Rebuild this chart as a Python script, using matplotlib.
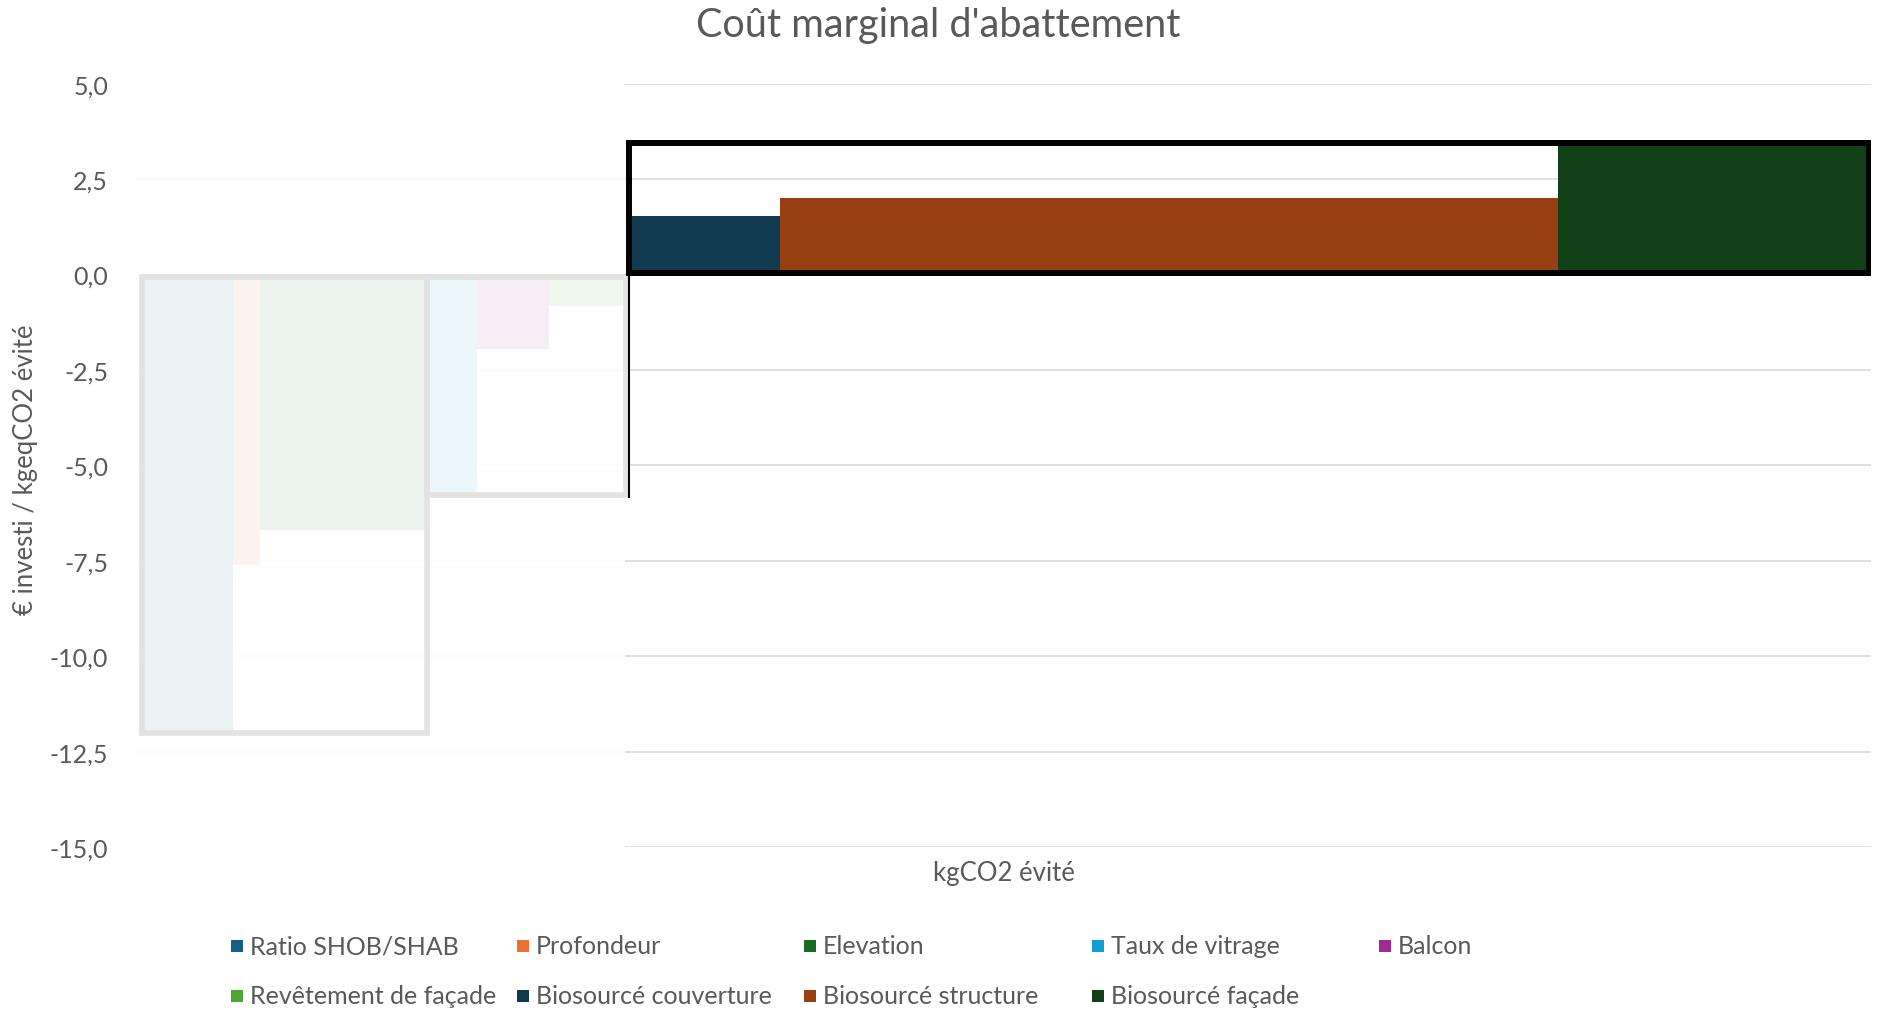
import numpy as np
import matplotlib

matplotlib.use("Agg")
import matplotlib.pyplot as plt
from matplotlib.patches import Rectangle

plt.rcParams["font.family"] = ["Lato", "DejaVu Sans"]

# --- data ---
MESURES = ["Ratio SHOB/SHAB", "Profondeur", "Elevation", "Taux de vitrage", "Balcon",
           "Revêtement de façade", "Biosourcé couverture", "Biosourcé structure", "Biosourcé façade"]
KG_EVITE = [92, 27, 167, 50, 72, 79, 152, 778, 311]          # bar widths (kgCO2 évité)
COUT = [-11.93, -7.62, -6.69, -5.69, -1.96, -0.82, 1.53, 2.0, 3.4]   # € / kgeqCO2 évité
COULEURS = ["#156082", "#E97132", "#196B24", "#0F9ED5", "#A02B93",
            "#4EA72E", "#0F3A50", "#983F11", "#113F16"]
Y_TICKS = [5.0, 2.5, 0.0, -2.5, -5.0, -7.5, -10.0, -12.5, -15.0]
GROUPES = [(0, 3), (3, 6)]        # faded groups (gray frames)
GROUPE_NOIR = (6, 9)              # highlighted group (black frame)
X0, XMAX = 5, 1735

W, H = 1877, 1012
GRIS_TXT = "#595959"

fig = plt.figure(figsize=(W / 100, H / 100), dpi=100)
ax = fig.add_axes([136 / W, 1 - 848.1 / H, 1735 / W, (848.1 - 84.6) / H])

lefts = X0 + np.concatenate([[0], np.cumsum(KG_EVITE)[:-1]])
ax.bar(lefts, COUT, width=KG_EVITE, align="edge", color=COULEURS, linewidth=0, zorder=2)

ax.set_xlim(0, XMAX)
ax.set_ylim(-15, 5)
ax.set_yticks(Y_TICKS)
ax.set_yticklabels([f"{v:.1f}".replace(".", ",") for v in Y_TICKS], fontsize=18, color=GRIS_TXT)
ax.tick_params(axis="y", length=0, pad=20)
ax.set_xticks([])
ax.yaxis.grid(True, color="#d9d9d9", lw=1.2, zorder=0.5)
ax.set_axisbelow(True)
for s in ax.spines.values():
    s.set_visible(False)

# white veil over the faded part
x_fin = lefts[GROUPES[-1][1] - 1] + KG_EVITE[GROUPES[-1][1] - 1]
ax.axvspan(0, x_fin - 3, color="white", alpha=0.92, lw=0, zorder=3)

# gray frames around faded groups
for i0, i1 in GROUPES:
    xa = lefts[i0] + (1 if i0 == 0 else 0)
    xb = lefts[i1 - 1] + KG_EVITE[i1 - 1] - (2.5 if i1 == 6 else 0)
    yb = min(COUT[i0:i1]) - 0.08
    ax.add_patch(Rectangle((xa, yb), xb - xa, -0.07 - yb, fill=False,
                           ec="#e3e3e3", lw=4.1, zorder=4, joinstyle="miter"))

# black frame around highlighted group
i0, i1 = GROUPE_NOIR
xa = lefts[i0] + 1
xb = lefts[i1 - 1] + KG_EVITE[i1 - 1]
ax.add_patch(Rectangle((xa, 0.04), xb - xa, max(COUT[i0:i1]) + 0.05 - 0.04, fill=False,
                       ec="black", lw=4.3, zorder=5, joinstyle="miter"))
ax.plot([xa, xa], [min(COUT[3:6]) - 0.16, 0], color="black", lw=1.5, zorder=5,
        solid_capstyle="butt")

# texts
fig.text(938 / W, 1 - 25 / H, "Coût marginal d'abattement", ha="center", va="center",
         fontsize=28.5, color=GRIS_TXT)
fig.text(1004 / W, 1 - 874 / H, "kgCO2 évité", ha="center", va="center",
         fontsize=18.5, color=GRIS_TXT)
fig.text(26 / W, 1 - 470 / H, "€ investi / kgeqCO2 évité", ha="center", va="center",
         rotation=90, fontsize=18.5, color=GRIS_TXT)

# legend (two rows, five columns)
col_x = [237, 523, 810, 1098, 1385]
row_y = [947, 997]
for k, (nom, c) in enumerate(zip(MESURES, COULEURS)):
    cx, cy = col_x[k % 5], row_y[k // 5]
    fig.add_artist(Rectangle(((cx - 6) / W, 1 - (cy + 6) / H), 12 / W, 12 / H,
                             transform=fig.transFigure, color=c, lw=0))
    fig.text((cx + 13) / W, 1 - cy / H, nom, ha="left", va="center",
             fontsize=18, color=GRIS_TXT)

fig.savefig("out.png", dpi=100)
